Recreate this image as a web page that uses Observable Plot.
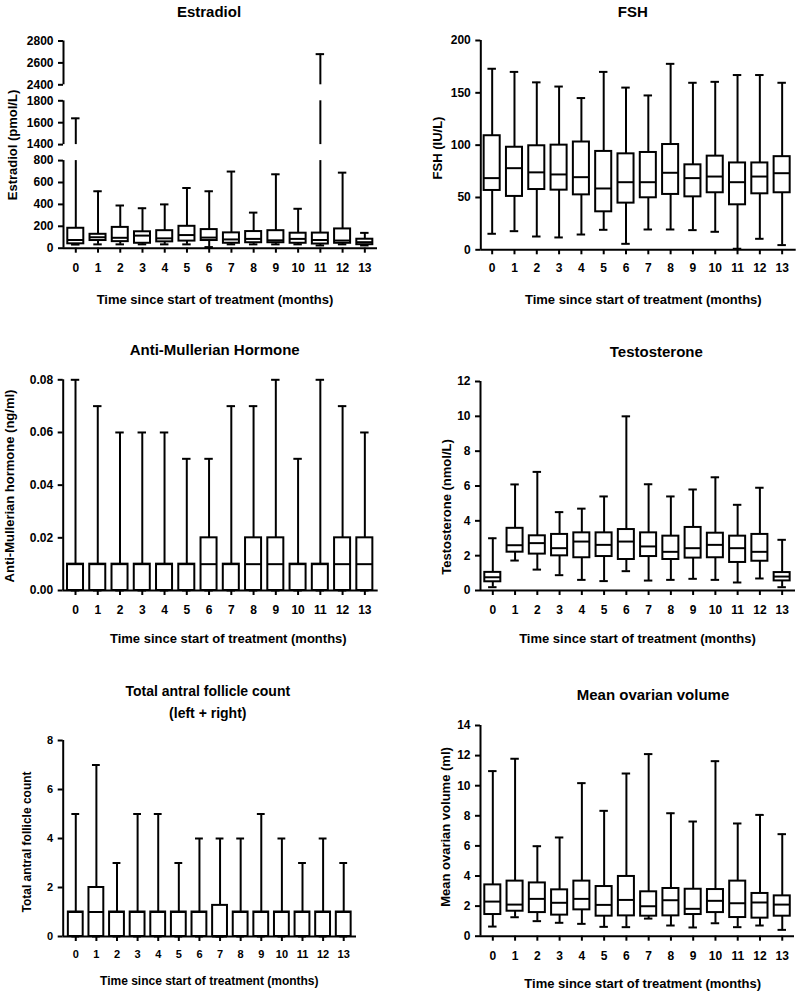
<!DOCTYPE html>
<html><head><meta charset="utf-8">
<script src="https://cdn.jsdelivr.net/npm/d3@7"></script>
<script src="https://cdn.jsdelivr.net/npm/@observablehq/plot@0.6"></script>
<style>
body{margin:0;background:#fff;}
#chart{position:relative;width:798px;height:991px;font-family:"Liberation Sans",Arial,sans-serif;font-weight:bold;color:#000;overflow:hidden;}
.t{position:absolute;transform:translate(-50%,-50%);white-space:nowrap;line-height:1;}
.yl{position:absolute;transform:translate(-50%,-50%) rotate(-90deg);white-space:nowrap;line-height:1;}
.p{position:absolute;}
</style></head><body><div id="chart"></div>
<script>
const months = [0,1,2,3,4,5,6,7,8,9,10,11,12,13];

// Estradiol (pmol/L)
const estradiolMin = [33,35,35,35,35,35,10,35,35,35,35,25,35,25];
const estradiolQ1  = [40,70,60,45,58,65,70,45,50,50,45,38,45,32];
const estradiolMed = [75,100,95,115,90,120,97,80,85,72,85,75,70,55];
const estradiolQ3  = [182,127,190,150,160,200,170,140,152,160,137,138,176,82];
const estradiolMax = [1640,520,390,365,400,550,520,700,325,675,360,2680,690,140];
const estradiolTicks = [0,200,400,600,800,1400,1600,1800,2400,2600,2800];
const estradiolSegments = [[0,800],[1400,1800],[2400,2800]];

// FSH (IU/L)
const fshMin = [15.3,17.8,12.7,11.8,14.6,19.1,5.7,19.4,19.4,18.8,17.2,1,10.5,4.5];
const fshQ1  = [56.7,51,57.6,57,52.5,36.3,44.6,49.7,52.9,50.6,54.5,43,53.5,54.5];
const fshMed = [68.5,78,74,72,69.4,58.6,64.6,64.6,73.6,68.5,70,64.6,70,73.2];
const fshQ3  = [109,98,99.4,100,103,94,91.7,93,100.6,81.2,89.5,83,83,89];
const fshMax = [173,170,160,156,145,170,155,147.5,177.7,159.6,160.5,167,167,159.6];
const fshTicks = [0,50,100,150,200];

// Anti-Mullerian hormone (ng/ml)
const amhMin = [0,0,0,0,0,0,0,0,0,0,0,0,0,0];
const amhQ1  = [0,0,0,0,0,0,0,0,0,0,0,0,0,0];
const amhMed = [0.01,0.01,0.01,0.01,0.01,0.01,0.01,0.01,0.01,0.01,0.01,0.01,0.01,0.01];
const amhQ3  = [0.01,0.01,0.01,0.01,0.01,0.01,0.02,0.01,0.02,0.02,0.01,0.01,0.02,0.02];
const amhMax = [0.08,0.07,0.06,0.06,0.06,0.05,0.05,0.07,0.07,0.08,0.05,0.08,0.07,0.06];
const amhTicks = [0,0.02,0.04,0.06,0.08];

// Testosterone (nmol/L)
const testoMin = [0.19,1.72,1.2,0.88,0.61,0.54,1.11,0.57,0.61,0.67,0.61,0.46,0.69,0.19];
const testoQ1  = [0.5,2.2,2.09,1.99,1.88,1.95,1.78,1.95,1.78,1.86,1.88,1.61,1.68,0.55];
const testoMed = [0.76,2.6,2.72,2.43,2.81,2.62,2.81,2.53,2.22,2.43,2.62,2.43,2.22,0.8];
const testoQ3  = [1.04,3.57,3.14,3.22,3.31,3.31,3.5,3.31,3.12,3.62,3.29,3.12,3.22,1.03];
const testoMax = [3.0,6.09,6.81,4.5,4.7,5.4,10.0,6.1,5.4,5.8,6.5,4.92,5.9,2.91];
const testoTicks = [0,2,4,6,8,10,12];

// Total antral follicle count
const afcMin = [0,0,0,0,0,0,0,0,0,0,0,0,0,0];
const afcQ1  = [0,0,0,0,0,0,0,0,0,0,0,0,0,0];
const afcMed = [1,1,1,1,1,1,1,0,1,1,1,1,1,1];
const afcQ3  = [1,2,1,1,1,1,1,1.27,1,1,1,1,1,1];
const afcMax = [5,7,3,5,5,3,4,4,4,5,4,3,4,3];
const afcTicks = [0,2,4,6,8];

// Mean ovarian volume (ml)
const movMin = [0.64,1.26,1.0,0.89,0.82,0.62,0.6,1.17,0.71,0.58,0.86,0.6,0.71,0.42];
const movQ1  = [1.44,1.66,1.57,1.4,1.75,1.33,1.35,1.33,1.35,1.44,1.57,1.24,1.2,1.33];
const movMed = [2.3,2.1,2.48,2.22,2.48,2.08,2.41,1.99,2.39,1.82,2.35,2.19,2.24,2.1];
const movQ3  = [3.41,3.66,3.54,3.08,3.66,3.3,3.97,2.95,3.17,3.12,3.1,3.66,2.84,2.68];
const movMax = [10.97,11.79,5.98,6.56,10.17,8.33,10.81,12.1,8.17,7.62,11.63,7.49,8.06,6.78];
const movTicks = [0,2,4,6,8,10,12,14];

const xTitle = "Time since start of treatment (months)";

const panels = [
  {title:["Estradiol"], ylabel:"Estradiol (pmol/L)", min:estradiolMin, q1:estradiolQ1, med:estradiolMed, q3:estradiolQ3, max:estradiolMax,
   ticks:estradiolTicks, segments:estradiolSegments, gap:16, fmt:d=>String(d),
   box:{left:0,top:25,width:399,height:265}, frame:{x0:63,x1:377,y0:40.5,y1:247.7}, pad:[0.553,0.57],
   titlePos:[209,10.5], xlabPos:[215,299], ylabPos:[11.5,145], font:{title:15,label:13,tick:12}, xpad:10},
  {title:["FSH"], ylabel:"FSH (IU/L)", min:fshMin, q1:fshQ1, med:fshMed, q3:fshQ3, max:fshMax,
   ticks:fshTicks, fmt:d=>String(d),
   box:{left:399,top:25,width:399,height:265}, frame:{x0:480.3,x1:795.7,y0:40,y1:249.3}, pad:[0.51,0.63],
   titlePos:[632.8,10.5], xlabPos:[643.3,299], ylabPos:[436.7,147.5], font:{title:15,label:13,tick:12}, xpad:9},
  {title:["Anti-Mullerian Hormone"], ylabel:"Anti-Mullerian hormone (ng/ml)", min:amhMin, q1:amhQ1, med:amhMed, q3:amhQ3, max:amhMax,
   ticks:amhTicks, fmt:d=>d.toFixed(2),
   box:{left:0,top:365,width:399,height:260}, frame:{x0:62.7,x1:377.7,y0:379.3,y1:590}, pad:[0.553,0.6],
   titlePos:[214.7,349], xlabPos:[228.3,638.3], ylabPos:[9.2,485.8], font:{title:15,label:13,tick:12}, xpad:10},
  {title:["Testosterone"], ylabel:"Testosterone (nmol/L)", min:testoMin, q1:testoQ1, med:testoMed, q3:testoQ3, max:testoMax,
   ticks:testoTicks, fmt:d=>String(d),
   box:{left:399,top:365,width:399,height:260}, frame:{x0:480,x1:795,y0:381,y1:590}, pad:[0.553,0.6],
   titlePos:[656.3,350.8], xlabPos:[637.5,638.3], ylabPos:[446.2,506.7], font:{title:15,label:13,tick:12}, xpad:10},
  {title:["Total antral follicle count","(left + right)"], ylabel:"Total antral follicle count", min:afcMin, q1:afcQ1, med:afcMed, q3:afcQ3, max:afcMax,
   ticks:afcTicks, fmt:d=>String(d),
   box:{left:0,top:725,width:399,height:245}, frame:{x0:62.7,x1:356,y0:740,y1:936}, pad:[0.61,0.62],
   titlePos:[207.8,690.7], titleGap:22, xlabPos:[209.3,981], ylabPos:[26.7,841.7], font:{title:14,label:12,tick:11}, xpad:9},
  {title:["Mean ovarian volume"], ylabel:"Mean ovarian volume (ml)", min:movMin, q1:movQ1, med:movMed, q3:movQ3, max:movMax,
   ticks:movTicks, fmt:d=>String(d),
   box:{left:399,top:710,width:399,height:260}, frame:{x0:480,x1:794,y0:725,y1:935.7}, pad:[0.553,0.55],
   titlePos:[653,694], xlabPos:[642.7,983.3], ylabPos:[445.3,826.7], font:{title:15,label:13,tick:12}, xpad:10}
];

const chart = document.getElementById("chart");

function addText(cls, txt, x, y, size) {
  const d = document.createElement("div");
  d.className = cls;
  d.textContent = txt;
  d.style.left = x + "px";
  d.style.top = y + "px";
  d.style.fontSize = size + "px";
  chart.appendChild(d);
}

function render(p) {
  const W = p.box.width, H = p.box.height;
  const mL = p.frame.x0 - p.box.left, mR = p.box.left + W - p.frame.x1;
  const mT = p.frame.y0 - p.box.top, mB = p.box.top + H - p.frame.y1;
  const xmin = -p.pad[0], xmax = 13 + p.pad[1];
  const segs = p.segments || [[p.ticks[0], p.ticks[p.ticks.length - 1]]];
  let yScale;
  if (p.segments) {
    const units = d3.sum(segs, s => s[1] - s[0]);
    const k = (p.frame.y1 - p.frame.y0 - p.gap * (segs.length - 1)) / units;
    const domain = [], range = [];
    let y = p.frame.y1 - p.box.top;
    segs.forEach((s, i) => {
      if (i > 0) y -= p.gap;
      domain.push(s[0]); range.push(y);
      y -= (s[1] - s[0]) * k;
      domain.push(s[1]); range.push(y);
    });
    yScale = {type: "linear", domain, range};
  } else {
    yScale = {type: "linear", domain: [segs[0][0], segs[0][1]]};
  }
  const rows = months.map((m, i) => ({m, min: p.min[i], q1: p.q1[i], med: p.med[i], q3: p.q3[i], max: p.max[i]}));
  const pieces = [];
  for (const r of rows) {
    for (const [a, b] of segs) {
      const lo1 = Math.max(r.q3, a), hi1 = Math.min(r.max, b);
      if (hi1 > lo1) pieces.push({m: r.m, y1: lo1, y2: hi1});
      const lo2 = Math.max(r.min, a), hi2 = Math.min(r.q1, b);
      if (hi2 > lo2) pieces.push({m: r.m, y1: lo2, y2: hi2});
    }
  }
  const caps = rows.flatMap(r => [{m: r.m, v: r.max}, {m: r.m, v: r.min}]);
  const hw = 0.36, cw = 0.19;
  const svg = Plot.plot({
    width: W, height: H,
    marginLeft: mL, marginRight: mR, marginTop: mT, marginBottom: mB,
    x: {type: "linear", domain: [xmin, xmax]},
    y: yScale,
    style: {fontFamily: '"Liberation Sans", Arial, sans-serif', fontWeight: "bold", fontSize: p.font.tick + "px", color: "#000", background: "none", overflow: "visible"},
    marks: [
      Plot.ruleX(segs, {x: () => xmin, y1: d => d[0], y2: d => d[1], strokeWidth: 2, stroke: "#000"}),
      Plot.ruleY([segs[0][0]], {strokeWidth: 2, stroke: "#000"}),
      Plot.axisY(p.ticks, {tickSize: 5, tickPadding: 5, strokeWidth: 2, tickFormat: p.fmt, label: null, fontSize: p.font.tick, fontWeight: "bold"}),
      Plot.axisX(months, {tickSize: 5, tickPadding: p.xpad, strokeWidth: 2, tickFormat: d => String(d), label: null, fontSize: p.font.tick, fontWeight: "bold"}),
      Plot.ruleX(pieces, {x: "m", y1: "y1", y2: "y2", strokeWidth: 2, stroke: "#000"}),
      Plot.ruleY(caps, {y: "v", x1: d => d.m - cw, x2: d => d.m + cw, strokeWidth: 2, stroke: "#000"}),
      Plot.rect(rows, {x1: d => d.m - hw, x2: d => d.m + hw, y1: "q1", y2: "q3", fill: "white", stroke: "#000", strokeWidth: 2}),
      Plot.ruleY(rows, {y: "med", x1: d => d.m - hw, x2: d => d.m + hw, strokeWidth: 2, stroke: "#000"})
    ]
  });
  svg.classList.add("p");
  svg.style.left = p.box.left + "px";
  svg.style.top = p.box.top + "px";
  chart.appendChild(svg);
  p.title.forEach((t, i) => addText("t", t, p.titlePos[0], p.titlePos[1] + i * (p.titleGap || 18), p.font.title));
  addText("t", xTitle, p.xlabPos[0], p.xlabPos[1], p.font.label);
  addText("yl", p.ylabel, p.ylabPos[0], p.ylabPos[1], p.font.label);
}

panels.forEach(render);
</script>
</body></html>
